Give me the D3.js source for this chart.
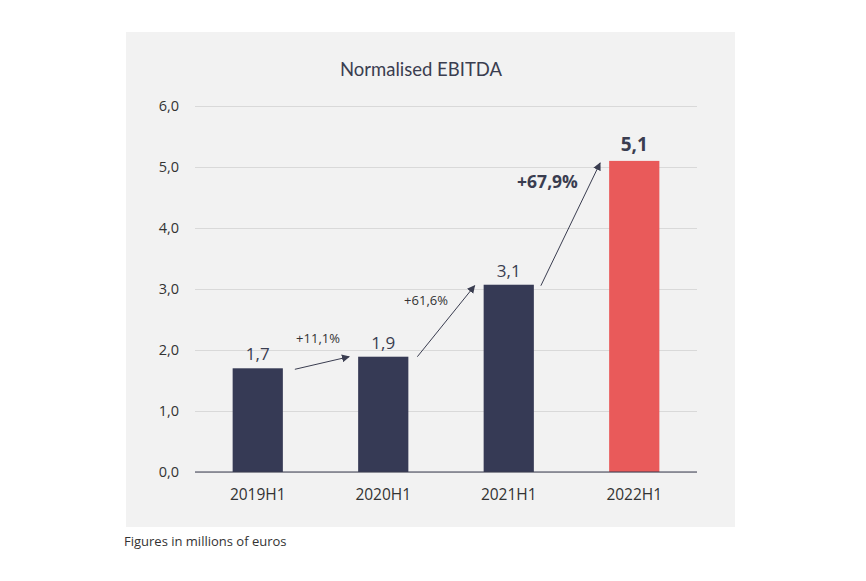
<!DOCTYPE html>
<html>
<head>
<meta charset="utf-8">
<title>Normalised EBITDA</title>
<style>
  body { margin: 0; background: #fff; }
  svg { display: block; }
</style>
</head>
<body>
<script src="https://cdn.jsdelivr.net/npm/d3@7"></script>
<script>
  // data
  var categories = ["2019H1", "2020H1", "2021H1", "2022H1"];
  var values = [1.70, 1.89, 3.07, 5.10];
  var valueLabels = ["1,7", "1,9", "3,1", "5,1"];
  var growthLabels = ["+11,1%", "+61,6%", "+67,9%"];
  var yTicks = [0, 1, 2, 3, 4, 5, 6];

  var width = 866, height = 581;
  var margin = { top: 106, right: 169, bottom: 109, left: 195 };
  var navy = "#363a55", red = "#e95a5a", ink = "#3a3d50";

  var svg = d3.select("body").append("svg")
      .attr("width", width)
      .attr("height", height)
      .style("font-family", "'Open Sans', sans-serif");

  // grey panel
  svg.append("rect")
      .attr("x", 126).attr("y", 32)
      .attr("width", 609).attr("height", 495)
      .attr("fill", "#f2f2f2");

  var x = d3.scaleBand()
      .domain(categories)
      .range([margin.left, width - margin.right])
      .paddingInner(0.6)
      .paddingOuter(0.3);

  var y = d3.scaleLinear()
      .domain([0, 6])
      .range([height - margin.bottom, margin.top]);

  svg.append("text")
      .attr("x", 421).attr("y", 76)
      .attr("text-anchor", "middle")
      .attr("fill", ink)
      .style("font-family", "Lato, sans-serif")
      .style("font-size", "18.5px")
      .text("Normalised EBITDA");

  // grid + y labels
  var yAxis = d3.axisLeft(y)
      .tickValues(yTicks)
      .tickSize(-(width - margin.right - margin.left))
      .tickPadding(16)
      .tickFormat(d => d3.format(".1f")(d).replace(".", ","));

  svg.append("g")
      .attr("class", "y-axis")
      .attr("transform", `translate(${margin.left},0)`)
      .call(yAxis)
      .call(g => g.select(".domain").remove())
      .call(g => g.selectAll(".tick line").attr("stroke", "#d9d9d9"))
      .call(g => g.selectAll(".tick text")
          .attr("fill", "#333")
          .style("font-size", "14.5px")
          .style("font-family", "'Open Sans', sans-serif"));

  // bars
  svg.append("g")
      .selectAll("rect")
      .data(values)
      .join("rect")
      .attr("x", (d, i) => x(categories[i]))
      .attr("y", d => y(d))
      .attr("width", x.bandwidth())
      .attr("height", d => y(0) - y(d))
      .attr("fill", (d, i) => i === values.length - 1 ? red : navy);

  // baseline
  svg.append("line")
      .attr("x1", margin.left).attr("x2", width - margin.right)
      .attr("y1", y(0)).attr("y2", y(0))
      .attr("stroke", ink).attr("stroke-width", 1.2);

  // x labels
  var xAxis = d3.axisBottom(x).tickSize(0).tickPadding(17);
  svg.append("g")
      .attr("transform", `translate(0,${y(0)})`)
      .call(xAxis)
      .call(g => g.select(".domain").remove())
      .call(g => g.selectAll(".tick text")
          .attr("fill", "#333")
          .style("font-size", "15.5px")
          .style("font-family", "'Open Sans', sans-serif"));

  // value labels
  svg.append("g")
      .selectAll("text")
      .data(values)
      .join("text")
      .attr("x", (d, i) => x(categories[i]) + x.bandwidth() / 2)
      .attr("y", (d, i) => y(d) - (i === values.length - 1 ? 10 : 8))
      .attr("text-anchor", "middle")
      .attr("fill", ink)
      .style("font-size", (d, i) => i === values.length - 1 ? "19px" : "17px")
      .style("font-weight", (d, i) => i === values.length - 1 ? "bold" : "normal")
      .text((d, i) => valueLabels[i]);

  // growth arrows
  svg.append("defs").append("marker")
      .attr("id", "arrow")
      .attr("viewBox", "0 0 10 10")
      .attr("refX", 9).attr("refY", 5)
      .attr("markerWidth", 8).attr("markerHeight", 8)
      .attr("markerUnits", "userSpaceOnUse")
      .attr("orient", "auto")
      .append("path")
      .attr("d", "M0,0L10,5L0,10z")
      .attr("fill", ink);

  var startGap = [12, 9, 7], endGap = [9, 9, 9], startDy = [1, 0, 1], endDy = [0, 1, 2];
  var labelDx = [-4, -20, -23], labelDy = [-20, -16, -36];

  growthLabels.forEach(function(lbl, i) {
    var x1 = x(categories[i]) + x.bandwidth() + startGap[i];
    var y1 = y(values[i]) + startDy[i];
    var x2 = x(categories[i + 1]) - endGap[i];
    var y2 = y(values[i + 1]) + endDy[i];
    svg.append("line")
        .attr("x1", x1).attr("y1", y1)
        .attr("x2", x2).attr("y2", y2)
        .attr("stroke", ink).attr("stroke-width", 1)
        .attr("marker-end", "url(#arrow)");
    var last = i === growthLabels.length - 1;
    svg.append("text")
        .attr("x", (x1 + x2) / 2 + labelDx[i])
        .attr("y", (y1 + y2) / 2 + labelDy[i])
        .attr("text-anchor", "middle")
        .attr("fill", last ? ink : "#333")
        .style("font-size", last ? "17.5px" : "13px")
        .style("font-weight", last ? "bold" : "normal")
        .text(lbl);
  });

  svg.append("text")
      .attr("x", 124).attr("y", 546)
      .attr("fill", "#333")
      .style("font-size", "13px")
      .text("Figures in millions of euros");
</script>
</body>
</html>
